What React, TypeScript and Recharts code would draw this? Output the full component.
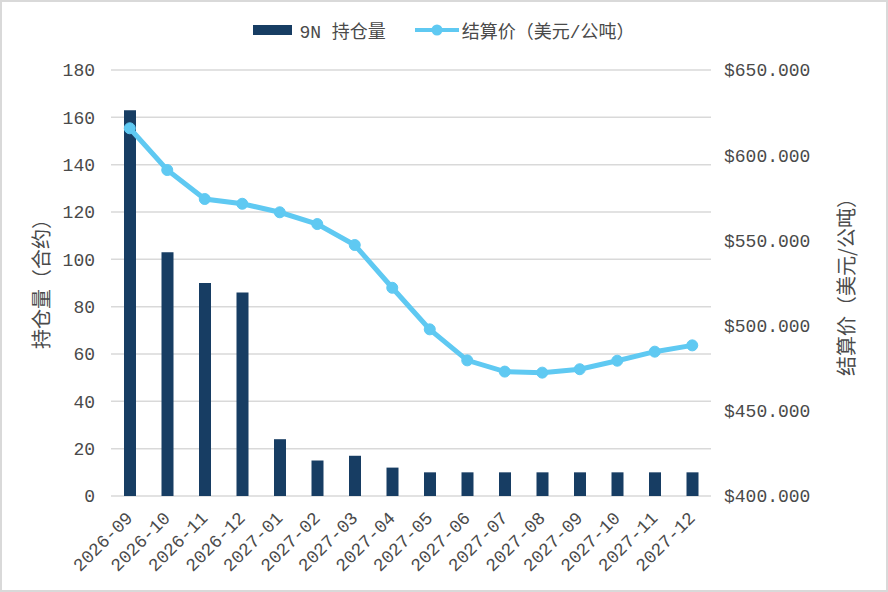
import React from 'react'
import { Bar, CartesianGrid, ComposedChart, Label, Line, XAxis, YAxis } from 'recharts'

const months = [
  '2026-09', '2026-10', '2026-11', '2026-12', '2027-01', '2027-02', '2027-03', '2027-04',
  '2027-05', '2027-06', '2027-07', '2027-08', '2027-09', '2027-10', '2027-11', '2027-12',
]
const openInterest = [163, 103, 90, 86, 24, 15, 17, 12, 10, 10, 10, 10, 10, 10, 10, 10]
const settlePrice = [
  615.8, 591.3, 574.3, 571.5, 566.5, 559.6, 547.3, 522.2,
  497.8, 479.6, 473.0, 472.4, 474.4, 479.4, 484.7, 488.4,
]
const leftTicks = [0, 20, 40, 60, 80, 100, 120, 140, 160, 180]
const rightTicks = [400, 450, 500, 550, 600, 650]

const data = months.map((m, i) => ({ month: m, oi: openInterest[i], price: settlePrice[i] }))

const BAR = '#173d63'
const LINE = '#5fc9f2'
const MONO = '"Liberation Mono", "DejaVu Sans Mono", monospace'
const CJK = '"Noto Sans CJK SC", "Noto Sans", sans-serif'
const TXT = '#4a4a4a'

const XTick = (props: any) => {
  const { x, y, payload } = props
  const tx = x + 4
  const ty = y + 23
  return (
    <text x={tx} y={ty} transform={`rotate(-45, ${tx}, ${ty})`} textAnchor="end"
      fontFamily={MONO} fontSize={18} fill={TXT}>
      {payload.value}
    </text>
  )
}

const LeftTitle = (props: any) => {
  const vb = props.viewBox
  const cx = vb.x + 40
  const cy = vb.y + vb.height / 2 - 4
  return (
    <text x={cx} y={cy} transform={`rotate(-90, ${cx}, ${cy})`} textAnchor="middle"
      dominantBaseline="central" fontFamily={CJK} fontSize={20} fill={TXT}>
      持仓量（合约）
    </text>
  )
}

const RightTitle = (props: any) => {
  const vb = props.viewBox
  const cx = vb.x + 134
  const cy = vb.y + vb.height / 2 - 1
  return (
    <text x={cx} y={cy} transform={`rotate(-90, ${cx}, ${cy})`} textAnchor="middle"
      dominantBaseline="central" fontFamily={CJK} fontSize={20} fill={TXT}>
      结算价（美元/公吨）
    </text>
  )
}

export default function App() {
  return (
    <div style={{ position: 'absolute', left: 0, top: 0, width: 888, height: 592, background: '#fff' }}>
      <ComposedChart width={888} height={592} data={data}
        margin={{ top: 70, right: 0, bottom: 0, left: 0 }}>
        <CartesianGrid yAxisId="left" vertical={false} stroke="#d9d9d9" strokeWidth={1.5} />
        <XAxis dataKey="month" axisLine={false} tickLine={false} tickSize={0} tickMargin={0}
          interval={0} tick={<XTick />} height={96} />
        <YAxis yAxisId="left" domain={[0, 180]} ticks={leftTicks} width={111}
          axisLine={false} tickLine={false} tickSize={0} tickMargin={16}
          tick={{ fontFamily: MONO, fontSize: 18, fill: TXT }}>
          <Label content={<LeftTitle />} />
        </YAxis>
        <YAxis yAxisId="right" orientation="right" domain={[400, 650]} ticks={rightTicks} width={177}
          axisLine={false} tickLine={false} tickSize={0} tickMargin={13}
          tickFormatter={(v: number) => `$${v.toFixed(3)}`}
          tick={{ fontFamily: MONO, fontSize: 18, fill: TXT }}>
          <Label content={<RightTitle />} />
        </YAxis>
        <Bar yAxisId="left" dataKey="oi" fill={BAR} barSize={12} isAnimationActive={false} />
        <Line yAxisId="right" dataKey="price" stroke={LINE} strokeWidth={5}
          dot={{ r: 5.5, fill: LINE, stroke: LINE, strokeWidth: 1 }} isAnimationActive={false} />
      </ComposedChart>
      <div style={{ position: 'absolute', left: 0, top: 18, width: 888, display: 'flex',
        justifyContent: 'center', alignItems: 'center', fontSize: 18, color: TXT, height: 24 }}>
        <div style={{ width: 39, height: 10, background: BAR, marginRight: 7 }} />
        <span style={{ fontFamily: `"Liberation Mono", "Noto Sans CJK SC"` }}>9N 持仓量</span>
        <svg width={44} height={12} style={{ marginLeft: 29, marginRight: 3 }}>
          <line x1={0} y1={6} x2={44} y2={6} stroke={LINE} strokeWidth={4} />
          <circle cx={22} cy={6} r={5.5} fill={LINE} />
        </svg>
        <span style={{ fontFamily: `"Liberation Mono", "Noto Sans CJK SC"` }}>结算价（美元/公吨）</span>
      </div>
      <div style={{ position: 'absolute', left: 0, top: 0, width: 888, height: 592, boxSizing: 'border-box',
        border: '2px solid #d9d9d9', pointerEvents: 'none' }} />
    </div>
  )
}
